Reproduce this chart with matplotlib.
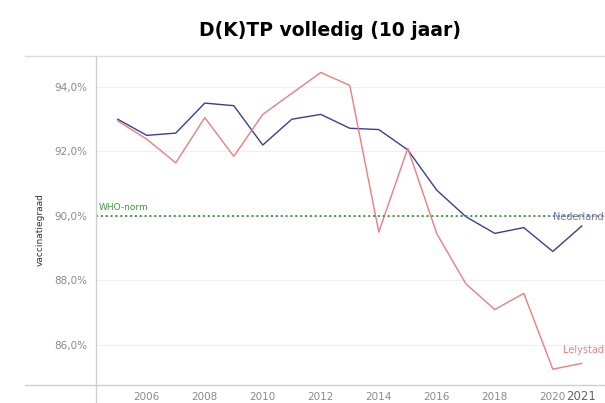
import matplotlib.pyplot as plt
from matplotlib.lines import Line2D
from matplotlib.ticker import FuncFormatter

years = [2005, 2006, 2007, 2008, 2009, 2010, 2011, 2012, 2013, 2014, 2015, 2016, 2017, 2018, 2019, 2020, 2021]
nederland = [93.0, 92.5, 92.57, 93.5, 93.42, 92.2, 93.0, 93.15, 92.72, 92.68, 92.05, 90.8, 89.98, 89.46, 89.64, 88.9, 89.69]
lelystad = [92.95, 92.38, 91.65, 93.05, 91.85, 93.15, 93.8, 94.45, 94.05, 89.5, 92.1, 89.45, 87.9, 87.1, 87.6, 85.25, 85.43]
who_norm = 90.0
y_ticks = [86, 88, 90, 92, 94]
x_ticks = [2006, 2008, 2010, 2012, 2014, 2016, 2018, 2020]

blue = '#3c3c9c'
red = '#f07c7c'
green = '#3d9a3d'
grey = '#8a8a8a'

fig = plt.figure(figsize=(6.05, 4.03), dpi=100)
ax = fig.add_axes([0.1587, 0.0447, 0.8413, 0.8163])

ax.plot(years, nederland, color=blue, lw=1.0)
ax.plot(years, lelystad, color=red, lw=1.0)
ax.axhline(who_norm, color=green, lw=1.4, ls=(0, (1, 1.5)))

ax.set_xlim(2004.25, 2021.8)
ax.set_ylim(84.76, 94.96)
ax.set_yticks(y_ticks)
ax.set_xticks(x_ticks)
ax.yaxis.set_major_formatter(FuncFormatter(lambda v, p: f'{v:.1f}%'.replace('.', ',')))
ax.tick_params(length=0, colors=grey, labelsize=7.5)
ax.tick_params(axis='y', pad=6)
ax.tick_params(axis='x', pad=5)
ax.grid(axis='y', color='#efefef', lw=0.8)
ax.set_axisbelow(True)

for s in ['top', 'right', 'bottom', 'left']:
    ax.spines[s].set_visible(False)

# tableau-like frame lines
fig.add_artist(Line2D([25/605, 1], [1-56/403]*2, color='#dcdcdc', lw=1))
fig.add_artist(Line2D([25/605, 1], [1-385/403]*2, color='#cfcfcf', lw=1))
fig.add_artist(Line2D([96/605]*2, [0, 1-56/403], color='#cfcfcf', lw=1))

ax.text(2004.35, 90.12, 'WHO-norm', color=green, fontsize=6.5, va='bottom', ha='left')
ax.text(2021.75, 89.98, 'Nederland', color='#7474b4', fontsize=7, va='center', ha='right')
ax.text(2021.75, 85.68, 'Lelystad', color='#f08080', fontsize=7, va='bottom', ha='right')
# extra year label added under the last point
fig.text(581/605, 1-397/403, '2021', color='#666666', fontsize=8.5, va='center', ha='center')

fig.text(40/605, 1-230/403, 'vaccinatiegraad', rotation=90, fontsize=6.5, color='#333333',
         ha='center', va='center')
fig.text(330/605, 1-30/403, 'D(K)TP volledig (10 jaar)', fontsize=13.5, fontweight='bold',
         ha='center', va='center')

fig.savefig('out.png', dpi=100)
